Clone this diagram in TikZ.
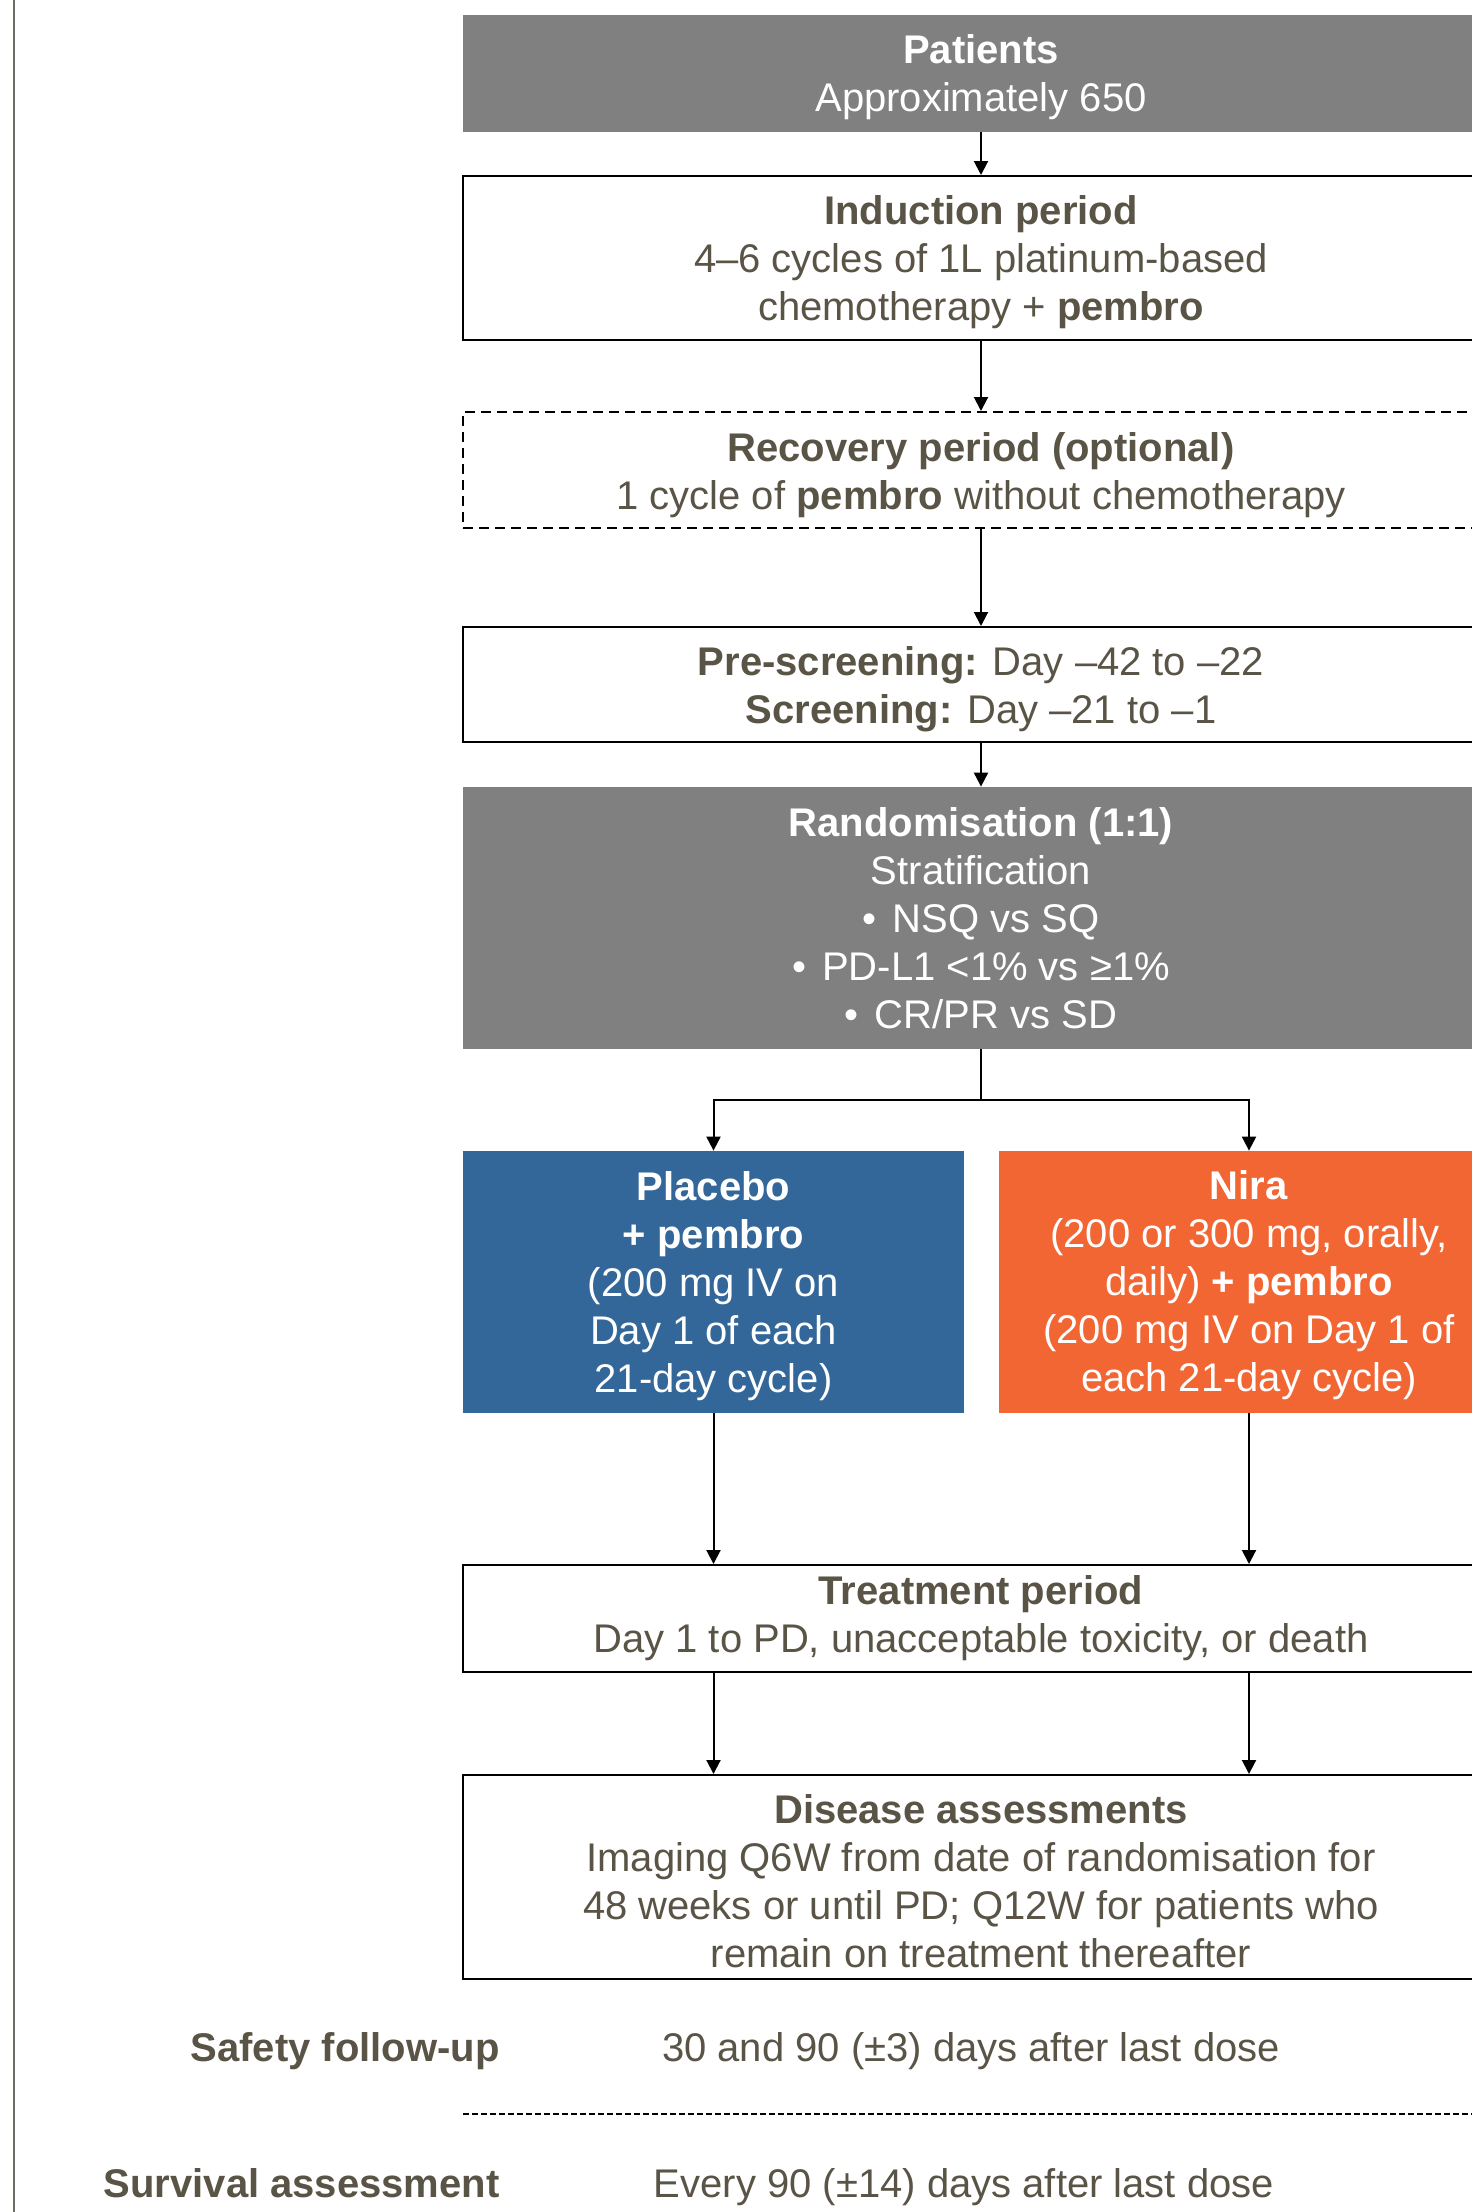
\documentclass[tikz,border=0pt]{standalone}
\usepackage{fontspec}
\setmainfont{Liberation Sans}
\usetikzlibrary{arrows.meta}
\definecolor{txt}{RGB}{89,84,70}
\definecolor{boxgray}{RGB}{128,128,128}
\definecolor{pblue}{RGB}{52,103,153}
\definecolor{norange}{RGB}{242,102,52}
\definecolor{leftline}{RGB}{110,108,100}
\begin{document}
\begin{tikzpicture}[x=0.5pt,y=-0.5pt,
  every node/.style={font=\fontsize{20}{24}\selectfont, align=center, inner sep=0pt},
  box/.style={draw=black, line width=1pt, fill=white, minimum width=518pt},
  graybox/.style={fill=boxgray, minimum width=518pt},
  dk/.style={text=txt},
  wt/.style={text=white},
  arr/.style={-{Triangle[width=7pt,length=7pt]}, line width=1pt},
  plain/.style={line width=1pt},
  lbl/.style={text=txt, anchor=base east},
  val/.style={text=txt, anchor=base},
]
\useasboundingbox (0,0) rectangle (1472,2212);
\clip (0,0) rectangle (1472,2212);

\draw[leftline, line width=0.6pt] (14,0) -- (14,2212);

% boxes
\node[graybox, minimum height=58.5pt] (pat) at (981,73.5) {};
\node[box, minimum height=82pt] (ind) at (981,258) {};
\node[box, dash pattern=on 5pt off 3pt, minimum height=58pt] (rec) at (981,470) {};
\node[box, minimum height=57.5pt] (scr) at (981,684.5) {};
\node[graybox, minimum height=131pt] (ran) at (981,918) {};
\node[fill=pblue, minimum width=250.5pt, minimum height=131pt] (pla) at (713.5,1282) {};
\node[fill=norange, minimum width=250pt, minimum height=131pt] (nir) at (1249,1282) {};
\node[box, minimum height=53.5pt] (trt) at (981,1618.5) {};
\node[box, minimum height=102pt] (dis) at (981,1877) {};

% box texts
\node[wt] (patT) at ([yshift=-2pt]pat.center) {\textbf{Patients}\\Approximately 650};
\node[dk] (indT) at ([yshift=-2pt]ind.center) {\textbf{Induction period}\\4–6 cycles of 1L platinum-based\\chemotherapy + \textbf{pembro}};
\node[dk] (recT) at ([yshift=-2.5pt]rec.center) {\textbf{Recovery period (optional)}\\1 cycle of \textbf{pembro} without chemotherapy};
\node[dk] (scrT) at ([yshift=-2.5pt]scr.center) {\textbf{Pre-screening:} Day –42 to –22\\\textbf{Screening:} Day –21 to –1};
\node[wt] (ranT) at (ran.center) {\textbf{Randomisation (1:1)}\\Stratification\\•\hspace{2.5pt} NSQ vs SQ\\•\hspace{2.5pt} PD-L1 <1\% vs ≥1\%\\•\hspace{2.5pt} CR/PR vs SD};
\node[wt] (plaT) at ([yshift=-2pt]pla.center) {\textbf{Placebo}\\\textbf{+ pembro}\\(200 mg IV on\\Day 1 of each\\21-day cycle)};
\node[wt] (nirT) at ([yshift=-1.5pt]nir.center) {\textbf{Nira}\\(200 or 300 mg, orally,\\daily) \textbf{+ pembro}\\(200 mg IV on Day 1 of\\each 21-day cycle)};
\node[dk] (trtT) at (trt.center) {\textbf{Treatment period}\\Day 1 to PD, unacceptable toxicity, or death};
\node[dk] (disT) at ([yshift=-2pt]dis.center) {\textbf{Disease assessments}\\Imaging Q6W from date of randomisation for\\48 weeks or until PD; Q12W for patients who\\remain on treatment thereafter};

% follow-up rows
\node[lbl] (sfl) at (500,2061) {\bfseries Safety follow-up};
\node[val] (sfv) at (971,2061) {30 and 90 (±3) days after last dose};
\node[lbl] (svl) at (500,2197) {\bfseries Survival assessment};
\node[val] (svv) at (964,2197) {Every 90 (±14) days after last dose};

\coordinate (sepL) at (463,2114);
\coordinate (sepR) at (1472,2114);
\draw[line width=0.8pt, dash pattern=on 3pt off 1.5pt] (sepL) -- (sepR);

% connectors
\draw[arr] (pat) -- (ind);
\draw[arr] (ind) -- (rec);
\draw[arr] (rec) -- (scr);
\draw[arr] (scr) -- (ran);
\coordinate (split) at (981,1100);
\draw[plain] (ran.south) -- (split);
\draw[arr] (split) -| (pla.north);
\draw[arr] (split) -| (nir.north);
\draw[arr] (pla.south) -- (pla.south |- trt.north);
\draw[arr] (nir.south) -- (nir.south |- trt.north);
\draw[arr] (trt.south -| pla.south) -- (dis.north -| pla.south);
\draw[arr] (trt.south -| nir.south) -- (dis.north -| nir.south);
\end{tikzpicture}
\end{document}
